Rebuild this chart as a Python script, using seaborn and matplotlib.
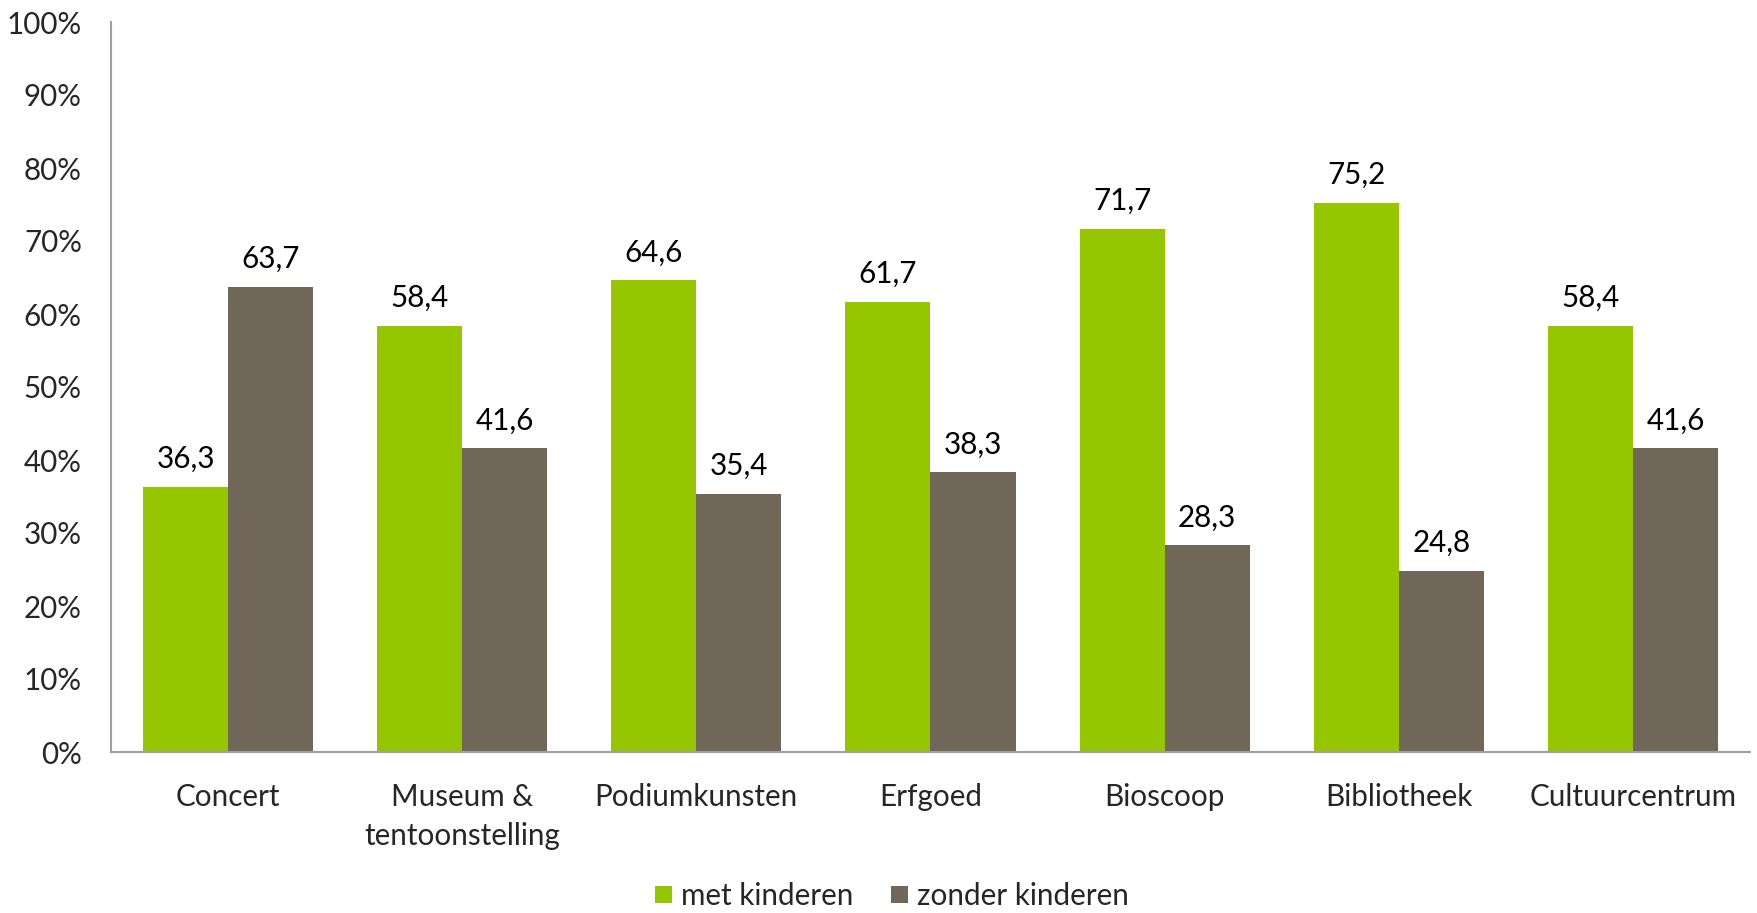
import matplotlib
matplotlib.use("Agg")
import matplotlib.pyplot as plt
import seaborn as sns
import pandas as pd
from matplotlib.ticker import FuncFormatter
from matplotlib.patches import Patch

categories = ["Concert", "Museum &\ntentoonstelling", "Podiumkunsten", "Erfgoed",
              "Bioscoop", "Bibliotheek", "Cultuurcentrum"]
met_kinderen = [36.3, 58.4, 64.6, 61.7, 71.7, 75.2, 58.4]
zonder_kinderen = [63.7, 41.6, 35.4, 38.3, 28.3, 24.8, 41.6]
series_names = ["met kinderen", "zonder kinderen"]
colors = ["#95C600", "#716759"]

df = pd.DataFrame({
    "categorie": categories * 2,
    "waarde": met_kinderen + zonder_kinderen,
    "groep": [series_names[0]] * len(categories) + [series_names[1]] * len(categories),
})

sns.set_style("white")
plt.rcParams["font.family"] = ["Lato", "DejaVu Sans"]
FS = 21.3

fig = plt.figure(figsize=(17.58, 9.13), dpi=100)
ax = fig.add_axes([111 / 1758, 1 - 752 / 913, (1750 - 111) / 1758, (752 - 22) / 913])

sns.barplot(data=df, x="categorie", y="waarde", hue="groep", order=categories,
            hue_order=series_names, palette=colors, width=0.727, gap=0,
            saturation=1, ax=ax, legend=False, errorbar=None, linewidth=0)

for container in ax.containers:
    labels = [f"{b.get_height():.1f}".replace(".", ",") for b in container]
    ax.bar_label(container, labels=labels, padding=10, fontsize=FS, color="#000000")

ax.set_ylim(0, 100)
ax.set_xlim(-0.5, len(categories) - 0.5)
ax.set_yticks(range(0, 101, 10))
ax.yaxis.set_major_formatter(FuncFormatter(lambda v, p: f"{int(v)}%"))
ax.tick_params(axis="y", length=0, pad=21, labelsize=FS)
ax.tick_params(axis="x", length=0, pad=22, labelsize=FS)
for lab in ax.get_xticklabels():
    lab.set_linespacing(1.5)
ax.set_xlabel("")
ax.set_ylabel("")
for s in ["top", "right"]:
    ax.spines[s].set_visible(False)
for s in ["left", "bottom"]:
    ax.spines[s].set_color("#A0A0A0")
    ax.spines[s].set_linewidth(1.5)
ax.grid(False)

handles = [Patch(facecolor=c, edgecolor="none") for c in colors]
fig.legend(handles, series_names, loc="center", bbox_to_anchor=(892 / 1758, 1 - 896 / 913),
           ncol=2, frameon=False, fontsize=FS, handlelength=0.55, handleheight=0.55,
           handletextpad=0.3, columnspacing=1.3)

fig.savefig("out.png", dpi=100)
